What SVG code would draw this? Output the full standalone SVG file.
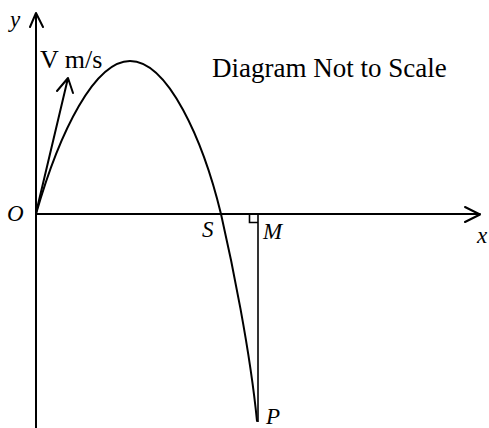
<svg xmlns="http://www.w3.org/2000/svg" width="489" height="428" viewBox="0 0 489 428">
<style>
.ln{fill:none;stroke:#000;stroke-width:2;stroke-linecap:round;stroke-linejoin:round}
.thin{fill:none;stroke:#000;stroke-width:1.6}
text{font-family:'Liberation Serif','Times New Roman',serif;fill:#000}
.i{font-style:italic;font-size:23px}
.big{font-size:26px}
.title{font-size:27px}
</style>
<rect width="489" height="428" fill="#fff"/>
<g id="axes">
<path class="ln" d="M36,428 V13 M30,27 L36,13 L43,27"/>
<path class="ln" d="M36,214 H480 M465,207 L480,214.5 L465,222"/>
</g>
<g id="connectors">
<path id="velocity" class="ln" d="M36,213 L68,78 M57,91 L68,78 L73,93"/>
<path id="trajectory" class="ln" d="M36,214 C60,130 95,61 130,61 C168,61 203,140 221,214 C232,262 250,350 257,421"/>
<path id="PM" class="thin" d="M258,214 V422"/>
<path id="rightangle" class="thin" d="M249.5,214 V222.5 H258"/>
</g>
<g id="labels">
<text class="i" x="10" y="27">y</text>
<text class="big" x="40" y="68">V m/s</text>
<text class="title" x="212" y="77">Diagram Not to Scale</text>
<text class="i" x="7" y="221">O</text>
<text class="i" x="202" y="237">S</text>
<text class="i" x="263" y="239">M</text>
<text class="i" x="477" y="243">x</text>
<text class="i" x="266" y="424">P</text>
</g>
</svg>
